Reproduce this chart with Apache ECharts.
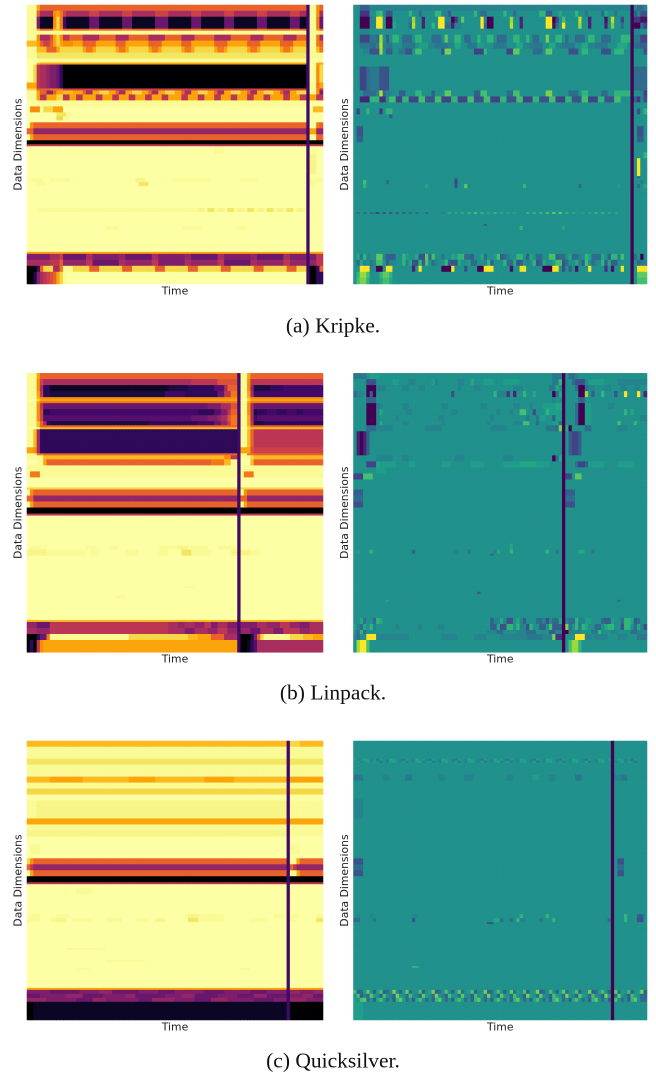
<!DOCTYPE html>
<html><head><meta charset="utf-8">
<style>html,body{margin:0;padding:0;background:#fff}#c{width:656px;height:1072px;filter:blur(0.55px)}</style>
<script src="https://cdn.jsdelivr.net/npm/echarts@6/dist/echarts.min.js"></script>
</head><body><div id="c"></div>
<script>
// Each entry is "repeat:runs"; a run is a level letter plus optional run length.
// Levels: a=0, b=.05 ... s=.9, w=.94, v=.975, t=.988, u=1
const columnCount = 90;
const captions = ["(a) Kripke.", "(b) Linpack.", "(c) Quicksilver."];
const kripkeGapColumn = 85, linpackGapColumn = 64, quicksilverGapColumn = 79;

const kripkeRaw = [
"3:t3 q1 n81 e1 t2 p1 n1",
"3:t3 n1 j4 p1 q1 o1 l1 j7 l3 j7 l3 j7 l4 j7 l3 j7 l3 j7 l3 j7 l3 j2 e1 t2 p1 j1",
"6:t3 h1 b4 p1 s1 o1 e1 b7 g3 b7 g3 b7 g4 b7 g3 b7 g3 b7 g3 b7 g3 b2 e1 t2 o1 g1",
"1:t3 q1 n4 r2 q1 n1 n7 o3 n7 o3 n7 o4 n7 o3 n7 o3 n7 o3 n7 o3 n2 e1 t2 q1 n1",
"2:t85 e1 t4",
"3:t3 p1 j3 m1 q1 s1 p1 k2 n4 j5 n5 j4 n6 j5 n5 j4 n6 j5 n6 j4 n6 j4 n3 e1 t2 o1 j1",
"3:r3 q1 n1 l2 n1 q1 s1 q1 p3 q3 n4 q6 n3 q7 n4 q6 n3 q7 n4 q6 n4 q6 n4 q4 e1 t2 o1 n1",
"3:t3 r3 n3 q1 s1 s6 q1 o2 q1 s6 q1 o2 q1 s6 q1 o2 q1 s6 q1 o2 q1 s6 q1 o2 q1 s6 q1 o2 q1 s6 q1 o2 q1 s4 e1 t2 r1 o1",
"3:t3 w82 e1 t4",
"2:u3 t82 e1 u4",
"1:u3 r1 q81 e1 u1 t1 q2",
"9:u2 s1 k1 j1 j1 i1 h2 g1 d1 a74 e1 u1 t1 p1 s1",
"3:q3 k1 j1 j1 i1 h2 g1 d1 a74 e1 t2 o1 q1",
"1:s3 n4 o4 l74 e1 t2 p1 k1",
"2:t3 q1 n2 i2 n1 q2 r3 q3 n1 j2 q2 s3 q2 n1 j2 q2 s3 q2 n1 j2 q2 s3 q2 n1 j2 q2 s3 q2 n1 j2 q2 s3 q2 n1 j2 q2 s3 q2 n1 j2 q2 s3 e1 t2 p1 h1",
"3:t3 q1 k2 q3 s2 k2 q2 k2 q4 k2 q3 k2 q3 k2 q3 k2 q3 k2 q4 k2 q3 k2 q3 k2 q3 k2 q3 k2 q3 k2 q4 k2 q3 k2 q3 k2 e1 t2 q1 k1",
"3:u3 t82 e1 u4",
"3:u1 p3 u1 s3 q3 u74 e1 u1 r3",
"2:u9 w3 t2 u71 e1 u4",
"2:u9 s2 t2 u72 e1 u4",
"1:u85 e1 u4",
"3:t1 p1 n83 e1 u2 o1 n1",
"3:n2 i83 e1 q2 i2",
"3:t1 q1 n83 e1 t2 n2",
"2:a85 e1 a4",
"1:k85 e1 k4",
"4:u57 t3 u25 e1 u1 t1 u2",
"10:u85 e1 v2 u2",
"2:u85 e1 u4",
"2:u1 t4 u2 t6 u20 v3 u8 t12 u9 t5 u15 e1 t4",
"2:u3 t3 u28 w3 u48 e1 t2 u2",
"11:u85 e1 u4",
"2:u3 t49 v2 t1 w2 t1 v2 t1 w2 t1 v2 t1 w2 t1 v2 t1 w2 t1 v2 t1 w2 t1 v2 t1 e1 u4",
"7:u85 e1 u4",
"2:u24 t4 u19 t6 u11 t3 u18 e1 u4",
"11:u85 e1 u4",
"1:q85 e1 q4",
"3:h7 j3 l1 g7 j2 h8 i2 g8 j2 h8 i2 g8 j2 h8 i2 g8 j2 h5 e1 h2 k2",
"3:j7 k3 n1 i7 k2 g8 j2 i8 k2 h8 j2 i8 k2 g8 j2 i8 k2 i5 e1 i2 k2",
"3:a3 e1 n1 s3 j2 o1 t3 s5 n3 s7 n3 s7 n3 s7 n3 s7 n3 s7 n3 s7 n3 s3 e1 a2 e1 n1",
"6:a2 c1 h1 j1 k1 l1 m1 n1 q1 s1 t1 u73 e1 a2 d2"
];

const kripkeDiff = [
"3:k2 g3 j80 a1 j1 h2 j1",
"3:k2 d3 k2 n1 o1 j1 f2 k5 n1 k2 h1 k4 n2 j2 g1 k7 n1 j1 h2 k5 n1 k2 h1 k7 n2 g2 k2 m1 k4 n1 k2 i1 k4 h1 m1 k2 i1 k4 a1 g1 j1 f2",
"3:k2 a3 j2 u2 k1 a2 l1 k4 j1 r1 k2 c1 k4 t1 u1 j2 a1 d1 j1 p1 k5 u1 j1 a2 k5 r1 k2 c1 k7 u2 a1 e1 k1 o1 k4 s1 k2 c1 k4 b1 k1 s1 k2 e1 k2 a1 d2 b2",
"3:k2 a3 j2 u2 k1 a2 m1 k4 h1 s1 k2 c1 k2 n1 k1 u2 h2 c1 j2 k1 k5 u1 h1 a2 k5 s1 k2 c1 k6 k1 u2 b1 h1 k1 u1 k4 r1 k2 c1 k4 c1 k1 q1 k2 h1 k2 a1 a2 h1 e1",
"3:k2 j3 k80 a1 j2 k2",
"4:k2 e3 i2 h1 r1 k1 g1 k1 n2 k1 h3 k1 n2 k3 h3 k1 p1 k2 n2 k1 h2 k2 n1 k2 n2 k1 h3 k2 n2 k2 n1 k1 h2 k2 q1 k2 n2 k1 h1 k2 h3 k1 n2 k2 h3 k3 n3 a1 i2 e2",
"3:k2 i3 h2 j1 s1 j1 i2 k3 i4 k1 l3 j2 i4 j2 m2 k2 i3 l2 k3 i4 k3 m2 j2 i4 k2 m2 j2 i4 k2 m2 j2 i4 k3 m3 k1 a1 h2 g2",
"3:k3 j2 f3 r1 k1 g2 k2 i2 f2 k1 o2 k6 f1 q2 k7 e3 n1 k6 e2 p2 k4 h3 k1 p2 k5 f3 k1 n2 k4 f3 k1 n3 k2 a1 k2 j1 f1",
"6:k85 a1 k4",
"12:k2 e2 h1 i3 f3 k74 a1 h4",
"3:k3 h4 j1 s1 h1 j2 k2 g2 k3 n2 k3 g1 k3 p2 k7 g2 o2 k6 h2 o2 k8 q2 k5 h3 k1 n2 k4 h2 k2 n5 a1 k2 j1 e1",
"3:k2 c3 n3 d2 k1 o2 e2 n2 e3 o2 f3 o2 e3 n2 e3 o2 f3 o2 e3 n2 f3 o2 e3 n2 f3 o2 e3 n2 f3 o2 e3 n2 f3 o2 k3 a1 g1 d1 j1 f1",
"3:k85 a1 k4",
"3:k1 e1 k2 n1 k3 d1 k1 n2 k73 a1 k1 f1 k1 n1",
"2:k11 g1 k73 a1 k4",
"4:k85 a1 k4",
"5:k1 f2 k82 a1 k1 f2 k1",
"3:k1 g2 k82 a1 k1 g2 k1",
"5:k85 a1 k4",
"3:k85 a1 k3 n1",
"9:k85 a1 k1 u1 k2",
"1:k85 a1 k1 g1 k2",
"1:k31 g1 k53 a1 k4",
"2:k3 o1 k6 h1 k20 e1 k53 a1 k2 i1 k1",
"2:k3 n1 k18 m1 k8 f1 k2 p1 j1 k16 n1 k16 h1 k11 l1 k3 a1 k1 h1 k1 m1",
"12:k85 a1 k4",
"1:k1 h1 k1 h1 k1 h1 i1 e1 k1 f1 k1 f1 k1 g1 k1 g1 k1 h1 k1 h1 k2 h1 k4 j1 k1 m1 k1 m1 k1 m1 k1 n1 k1 o1 k1 n1 k1 m1 k1 n1 k1 m1 k1 m1 k1 l1 k3 n1 k1 n1 k1 n1 k1 o1 k1 p1 k1 p1 k1 n1 k1 m1 k2 l1 k1 m1 k1 n1 k1 n1 k1 m1 k1 m1 k10",
"5:k85 a1 k4",
"1:k40 g1 k44 a1 k4",
"2:k51 n1 k12 m1 k20 a1 k4",
"12:k85 a1 k4",
"3:k1 m1 i1 n1 j1 k2 p2 j1 g3 k2 n1 l1 k2 m1 f2 p1 h1 o1 k2 i1 k2 m1 l1 n2 h2 g1 k2 m1 h1 k2 l1 o1 g1 h1 j1 k2 n2 k1 g1 m1 k1 h2 k2 o2 g1 h2 k1 m1 h2 j1 k1 n1 m1 h3 m1 k1 g1 n2 j1 o1 k2 g1 h1 k1 a1 k1 h1 j2",
"3:k1 h1 m1 j1 k1 i1 j1 o2 k1 g1 j2 k2 n1 j1 m1 f2 n1 g1 o1 k1 h1 j1 k2 n1 g1 f2 m1 k2 l1 h2 k2 j1 n1 g1 k3 n1 h2 m1 f1 g1 k1 j1 k1 n1 f1 g1 m1 k2 l1 o2 f1 h1 k2 m1 j1 g1 o1 k1 h1 j1 k1 n1 g1 m1 g2 k4 a1 k1 h1 i1 j1",
"3:k2 u3 j2 a2 k1 t2 k6 c1 k1 t1 k6 a3 t1 k3 f1 k3 a2 u3 k5 b1 k2 t2 k5 a3 t2 k1 f1 k1 g1 k1 b1 k3 t1 k4 d1 k1 b1 k2 t1 k2 a1 k1 u3",
"3:k1 n1 r2 o1 k3 n1 p2 n1 k73 a1 k1 p3",
"3:k1 o1 q2 n1 k3 m1 o2 m1 k73 a1 k1 o3"
];

const linpackRaw = [
"3:t3 q1 n60 e1 t2 q1 n22",
"3:t3 p1 l1 j45 k8 m6 e1 t2 p1 k22",
"3:t3 p1 j1 d2 b36 c6 d8 f3 j1 n3 e1 t2 p1 i1 c5 d4 e12",
"3:t3 q1 k1 d2 c35 e6 d10 g2 k2 o2 e1 t2 q1 j1 e21",
"1:t3 r1 p60 e1 t2 r1 p22",
"1:u3 s1 q60 e1 u2 s1 q22",
"1:t3 q1 o60 e1 t2 q1 o22",
"3:t3 p1 k1 g50 h4 j3 m2 e1 t2 p1 j1 g21",
"3:t3 p1 l1 d2 e45 d5 f2 h2 k1 n2 e1 t2 p1 j1 c1 d3 e3 d3 e3 d2 e6",
"3:t3 p1 l1 f45 g5 h3 i1 j2 m1 o2 e1 t2 q1 j1 e1 f20",
"2:t3 r1 n1 j1 d1 c30 d15 e5 g2 i2 l1 o2 e1 t2 q1 k1 c3 d18",
"1:t3 r1 n60 e1 t2 r1 n22",
"1:u4 r60 e1 u2 s1 r22",
"9:t2 r1 j1 d60 e1 t2 r1 n1 k21",
"3:q2 p1 j1 d60 e1 q2 q1 m1 l21",
"1:t3 o2 n59 e1 t2 o2 n21",
"2:t5 r55 p2 k2 e1 t3 s1 r21",
"3:u3 t2 q1 n50 o4 r2 t2 e1 u3 r1 n21",
"3:t64 e1 t25",
"3:t1 o3 t60 e1 t1 o3 t21",
"5:u64 e1 u25",
"1:s64 e1 s25",
"3:t1 p1 n62 e1 t1 p1 n23",
"3:n2 i62 e1 n2 i23",
"3:t1 q1 n62 e1 t1 q1 n23",
"3:a64 e1 a25",
"1:k64 e1 k25",
"15:u64 e1 u25",
"2:u1 t5 u12 t3 u4 t3 u12 t6 v3 t6 u3 t6 e1 u25",
"3:v6 t12 u1 t3 u8 t4 u6 t3 u4 w3 t6 u6 v2 e1 v3 t3 u19",
"15:u64 e1 u25",
"1:u48 t3 u13 e1 u25",
"4:u64 e1 u25",
"1:u27 t3 u34 e1 u25",
"11:u64 e1 u25",
"1:r64 e1 r25",
"3:i3 g4 k36 j3 i2 j3 i3 k2 h2 j3 h3 e1 h5 j3 i4 k3 i3 h3 j4",
"3:j3 i4 k36 j5 h3 j4 i3 k3 i3 e1 i3 g3 j4 h3 k5 i3 j4",
"3:a3 d1 g2 o1 t24 s18 r3 q4 n4 j4 e1 a3 c1 h1 n1 s1 t8 s4 r3 q2",
"6:a1 d1 a1 k1 p1 q59 e1 a2 b1 d1 f1 j20"
];

const linpackDiff = [
"3:i4 k1 l3 k53 i3 a1 k1 h2 j1 k21",
"3:k4 f3 k5 l2 k3 j2 k5 l1 j1 k6 j2 k2 m1 k3 l3 k3 l5 k3 k7 i2 n1 a1 k2 h1 f3 j1 l5 k4 j9",
"3:k4 a3 j3 k5 j2 k3 j2 k10 j1 k4 j2 k10 j3 k8 i2 m1 k1 a1 k3 h1 a2 h1 j2 k3 j2 k3 j2 k2 j2 k2",
"3:h1 j2 k1 a1 g1 a1 k23 f1 k12 n1 j3 d1 k1 c1 k2 n1 k2 m1 k5 a1 h1 m1 a1 k4 a2 r1 k1 g1 k2 n1 k3 f1 k2 t1 k3 u1 k1 c1",
"3:k4 g3 k54 j1 k2 a1 k4 g2 k19",
"3:k4 a3 i1 j1 k6 j2 k10 j2 k10 j2 k8 j2 k3 j1 k3 l4 m2 a1 k3 h1 a2 l2 k5 j2 k10",
"3:k4 a3 j1 m1 k7 j2 k12 j2 k12 j1 k3 j1 k2 o2 k2 f1 k3 n1 l4 a1 k3 h1 a2 l2 k10 n1 k1 m1 k4",
"3:k4 a3 j1 k5 j1 k12 j2 k14 j1 k9 k1 i1 k2 i1 l2 k2 g1 l2 a1 k3 h1 a2 l2 k15 j2",
"2:k4 a3 j1 m1 k6 j2 k10 j1 k13 j1 k7 j3 o2 k2 h1 k4 l2 h1 a1 k3 h1 a2 l2 k8 o1 k4 n1 k3",
"3:k4 h3 j5 k10 j5 k15 j5 k12 i3 h1 q2 m1 a1 k4 h2 k8 j3 k8",
"12:k1 c1 a1 c1 g1 k59 a1 k1 g1 e2 g1 k20",
"3:k7 j5 k3 j2 k14 j3 k12 j3 k12 a1 h1 m1 a1 k25",
"3:k4 e3 m1 l5 k4 l2 k8 l3 k6 l4 k6 l5 m5 l4 k4 a1 k3 h1 e2 g1 l5 k4 l5 k4",
"3:k7 l3 k54 a1 k25",
"3:e3 o3 k58 a1 e2 k1 p2 k20",
"5:k64 a1 k25",
"3:g3 k61 a1 g3 k22",
"3:h3 k61 a1 h3 k22",
"3:f3 k61 a1 f3 k22",
"18:k64 a1 k25",
"3:k48 m1 k15 a1 k25",
"2:k1 l1 k3 n1 k12 g1 k11 k1 j1 k3 i1 k7 j1 m1 k3 n1 k10 n1 k2 i1 k1 a1 k4 m2 k2 i1 k14",
"1:k42 g1 k21 a1 k25",
"18:k64 a1 k25",
"1:k38 f1 k25 a1 k25",
"3:k64 a1 k25",
"1:k10 m1 k53 a1 k16 h1 k8",
"8:k64 a1 k25",
"3:k2 m1 i1 k2 h1 n1 m1 k33 g1 j2 m1 j1 f2 k1 m1 j1 g1 k3 h2 j1 f1 j1 h2 m1 a1 j1 h2 n1 j2 l2 k3 h1 g2 l1 k2 h1 n2 m1 g1 h1 k1",
"3:l1 j1 h1 m1 k1 n1 j1 k6 j1 k6 j1 k5 j2 k14 g2 m1 f2 n2 k1 n1 j2 f1 n1 k2 g2 k1 o1 g3 a1 q1 h1 k1 n1 i1 n1 m1 k2 h2 k1 m1 n2 k2 f1 n2 k1 h1 m1 j1 f1",
"2:k1 h1 n1 h1 k37 j3 h2 k4 j3 h3 k4 g2 j3 a1 j4 k3 i2 n1 k3 j2 k4 h2 j4",
"3:j1 h1 k2 u3 j10 k10 j5 k5 j4 k4 j8 i5 j3 q1 d2 a1 k3 u3 j2 k1 j4 k3 j3 k3 i3",
"6:k1 r1 u2 o1 k59 a1 k1 o1 r2 n1 k20"
];

const quicksilverRaw = [
"3:r79 e1 s3 r7",
"6:t79 e1 t10",
"3:w79 e1 w10",
"6:t79 e1 t10",
"3:r7 q10 r14 q8 r15 q9 r16 e1 q10",
"3:t79 e1 t10",
"3:s79 e1 s10",
"3:u79 e1 u10",
"9:t3 v76 e1 t10",
"3:q79 e1 q10",
"3:t79 e1 t10",
"3:v79 e1 t10",
"4:u79 e1 u10",
"5:u1 t3 u75 e1 t3 u7",
"2:u79 e1 u10",
"3:s1 p1 n77 e1 t2 q1 n7",
"3:n1 k1 i77 e1 n1 k1 i8",
"3:t1 q1 n77 e1 t2 q1 n7",
"3:a79 e1 a10",
"1:k79 e1 k10",
"2:u79 e1 u10",
"3:u15 t5 u59 e1 u10",
"10:u79 e1 u10",
"2:u1 t3 u5 t4 u35 t1 v3 t8 u15 t4 e1 t3 u5 t2",
"2:t4 u3 t2 v3 u2 t6 u4 t5 u4 t4 u2 v3 u7 w3 t8 u8 t5 u6 e1 t2 u6 w2",
"13:u79 e1 u10",
"1:u12 t12 u55 e1 u10",
"5:u79 e1 u10",
"1:u24 t12 u43 e1 u10",
"3:u79 e1 u10",
"1:u15 t4 u46 t3 u11 e1 u10",
"9:u79 e1 u10",
"1:q79 e1 q10",
"2:h7 g9 h6 i4 g8 h6 g5 h9 g6 h8 g5 h6 e1 i3 h4 i3",
"2:g4 h8 i5 g6 h7 i3 g9 h5 i4 g7 h6 g5 i4 g6 e1 h4 i3 g3",
"2:i6 h9 g5 i4 h10 g4 i7 h6 g5 i5 h8 g6 h4 e1 i5 h5",
"9:a2 b77 e1 a10"
];

const quicksilverDiff = [
"9:k79 a1 k10",
"1:ljkmljkilkjmlkjilkjmkljilkjmlkjilkjmlkjilkjmkljilkjmlkjilkjmlkjilkjmlkjilkjmlkljkmljkilk",
"1:kljkmjlkikjlmkjlikjlmjklikjlmkjlikjlmkjlikjlmjklikjlmkjlikjlmkjlikjlmkjlikjlmkkljkmjlkik",
"6:k79 a1 k10",
"3:i3 k6 j2 k5 i2 k8 j2 k6 j3 k10 j2 k6 l2 k3 j2 k6 i2 k9 a1 j2 i2 k6",
"9:k79 a1 k10",
"10:j3 k76 a1 k10",
"20:k79 a1 k10",
"3:f3 k76 a1 k1 f2 k7",
"3:h3 k76 a1 k1 h2 k7",
"3:f3 k76 a1 k1 f2 k7",
"19:k79 a1 k10",
"2:k1 j1 k3 j1 k12 j2 k30 k1 n1 k7 n1 k19 a1 k3 n1 k3 g2 k1",
"2:h2 k4 i1 k11 f1 k24 m2 h1 k2 h1 k1 n1 j2 k4 i1 k3 n1 k16 h1 a1 k3 n1 k3 f2 k1",
"1:k41 f2 k36 a1 k10",
"21:k79 a1 k10",
"1:k18 n2 k59 a1 k10",
"11:k79 a1 k10",
"2:oghlpkgloghkqkglphkkogklqghkokglphklogkkqghlokgkphlkogklqghkokglphklogkkqghlokgkphlkogklqg",
"2:kogjhplkgokjgqlkhokjgplkhqkjgolkhpkjgoklhqjkgplkhokjgqlkhpkjgolkhqkjgplkhokjgqlkhpkjgolkh",
"2:lkophkgmokhkgnplhkgmokhkgnpkhkgmolhkgnpkhkgmokhlgnpkhkgmokhkgnplhkgmokhkgnpkhlgmokhkgnpkh",
"9:l3 k76 a1 k10"
];

const inferno = ["#000004","#0b0724","#1b0c41","#2f0a5b","#420a68","#570f6d","#6a176e","#7f1e6c","#932667","#a82e5f","#bc3754","#cc4248","#dd513a","#e9622c","#f37819","#f98e09","#fca50a","#fbba1f","#f6d746","#f2ea69","#fcffa4"];
const viridis = ["#440154","#471365","#482475","#463480","#414487","#3b528b","#355f8d","#2f6c8e","#2a788e","#25848e","#21918c","#1f9e89","#22a884","#31b57b","#44bf70","#5ec962","#7ad151","#9bd93c","#bddf26","#dfe318","#fde725"];

function levelOf(ch){
  if (ch === 'u') return 1;
  if (ch === 't') return 0.988;
  if (ch === 'v') return 0.975;
  if (ch === 'w') return 0.94;
  return (ch.charCodeAt(0) - 97) * 0.05;
}
function decode(rows, gapColumn, gapLevel){
  const out = [];
  let y = 0;
  rows.forEach(function(entry){
    const parts = entry.split(':');
    const cells = [];
    parts[1].replace(/([a-w])(\d*)/g, function(_, ch, n){
      const count = n ? +n : 1;
      for (let i = 0; i < count; i++) cells.push(levelOf(ch));
      return '';
    });
    while (cells.length < columnCount) cells.push(cells[cells.length - 1]);
    cells.length = columnCount;
    cells[gapColumn] = gapLevel;
    for (let r = 0; r < +parts[0]; r++, y++) {
      for (let x = 0; x < columnCount; x++) out.push([x, y, cells[x]]);
    }
  });
  return {data: out, rowCount: y};
}

const panels = [
  {rows: kripkeRaw, gap: kripkeGapColumn, level: 0.2, left: 27, top: 5, width: 296, gapY: 3},
  {rows: kripkeDiff, gap: kripkeGapColumn, level: 0, left: 353.5, top: 5, width: 293.5, gapY: 3},
  {rows: linpackRaw, gap: linpackGapColumn, level: 0.2, left: 27, top: 373.3, width: 296, gapY: 3},
  {rows: linpackDiff, gap: linpackGapColumn, level: 0, left: 353.5, top: 373.3, width: 293.5, gapY: 3},
  {rows: quicksilverRaw, gap: quicksilverGapColumn, level: 0.2, left: 27, top: 741, width: 296, gapY: 3},
  {rows: quicksilverDiff, gap: quicksilverGapColumn, level: 0, left: 353.5, top: 741, width: 293.5, gapY: 3}
];
const axisFont = {fontFamily: 'DejaVu Sans', fontSize: 10.8, color: '#222'};
const columns = Array.from({length: columnCount}, function(_, i){ return i; });
const grids = [], xAxes = [], yAxes = [], series = [];
panels.forEach(function(p, i){
  const d = decode(p.rows, p.gap, p.level);
  grids.push({left: p.left, top: p.top, width: p.width, height: 279, show: false});
  xAxes.push({type: 'category', gridIndex: i, data: columns, name: 'Time', nameLocation: 'middle', nameGap: 2,
    nameTextStyle: axisFont, axisLine: {show: false}, axisTick: {show: false}, axisLabel: {show: false}, splitLine: {show: false}});
  yAxes.push({type: 'category', gridIndex: i, inverse: true, data: Array.from({length: d.rowCount}, function(_, k){ return k; }),
    name: 'Data Dimensions', nameLocation: 'middle', nameGap: p.gapY, nameTextStyle: axisFont,
    axisLine: {show: false}, axisTick: {show: false}, axisLabel: {show: false}, splitLine: {show: false}});
  series.push({type: 'heatmap', xAxisIndex: i, yAxisIndex: i, data: d.data, silent: true, progressive: 0, animation: false,
    emphasis: {disabled: true}});
});
const captionTops = [311, 678, 1046];
const titles = captions.map(function(t, i){
  return {text: t, left: 328, textAlign: 'center', top: captionTops[i],
    textStyle: {fontFamily: 'Liberation Serif', fontSize: 21.5, fontWeight: 'normal', color: '#111'}};
});
const chart = echarts.init(document.getElementById('c'), null, {renderer: 'canvas', devicePixelRatio: 2});
chart.setOption({
  animation: false,
  backgroundColor: '#fff',
  title: titles,
  grid: grids, xAxis: xAxes, yAxis: yAxes,
  visualMap: [
    {show: false, type: 'continuous', min: 0, max: 1, seriesIndex: [0, 2, 4], inRange: {color: inferno}},
    {show: false, type: 'continuous', min: 0, max: 1, seriesIndex: [1, 3, 5], inRange: {color: viridis}}
  ],
  series: series
});
</script></body></html>
